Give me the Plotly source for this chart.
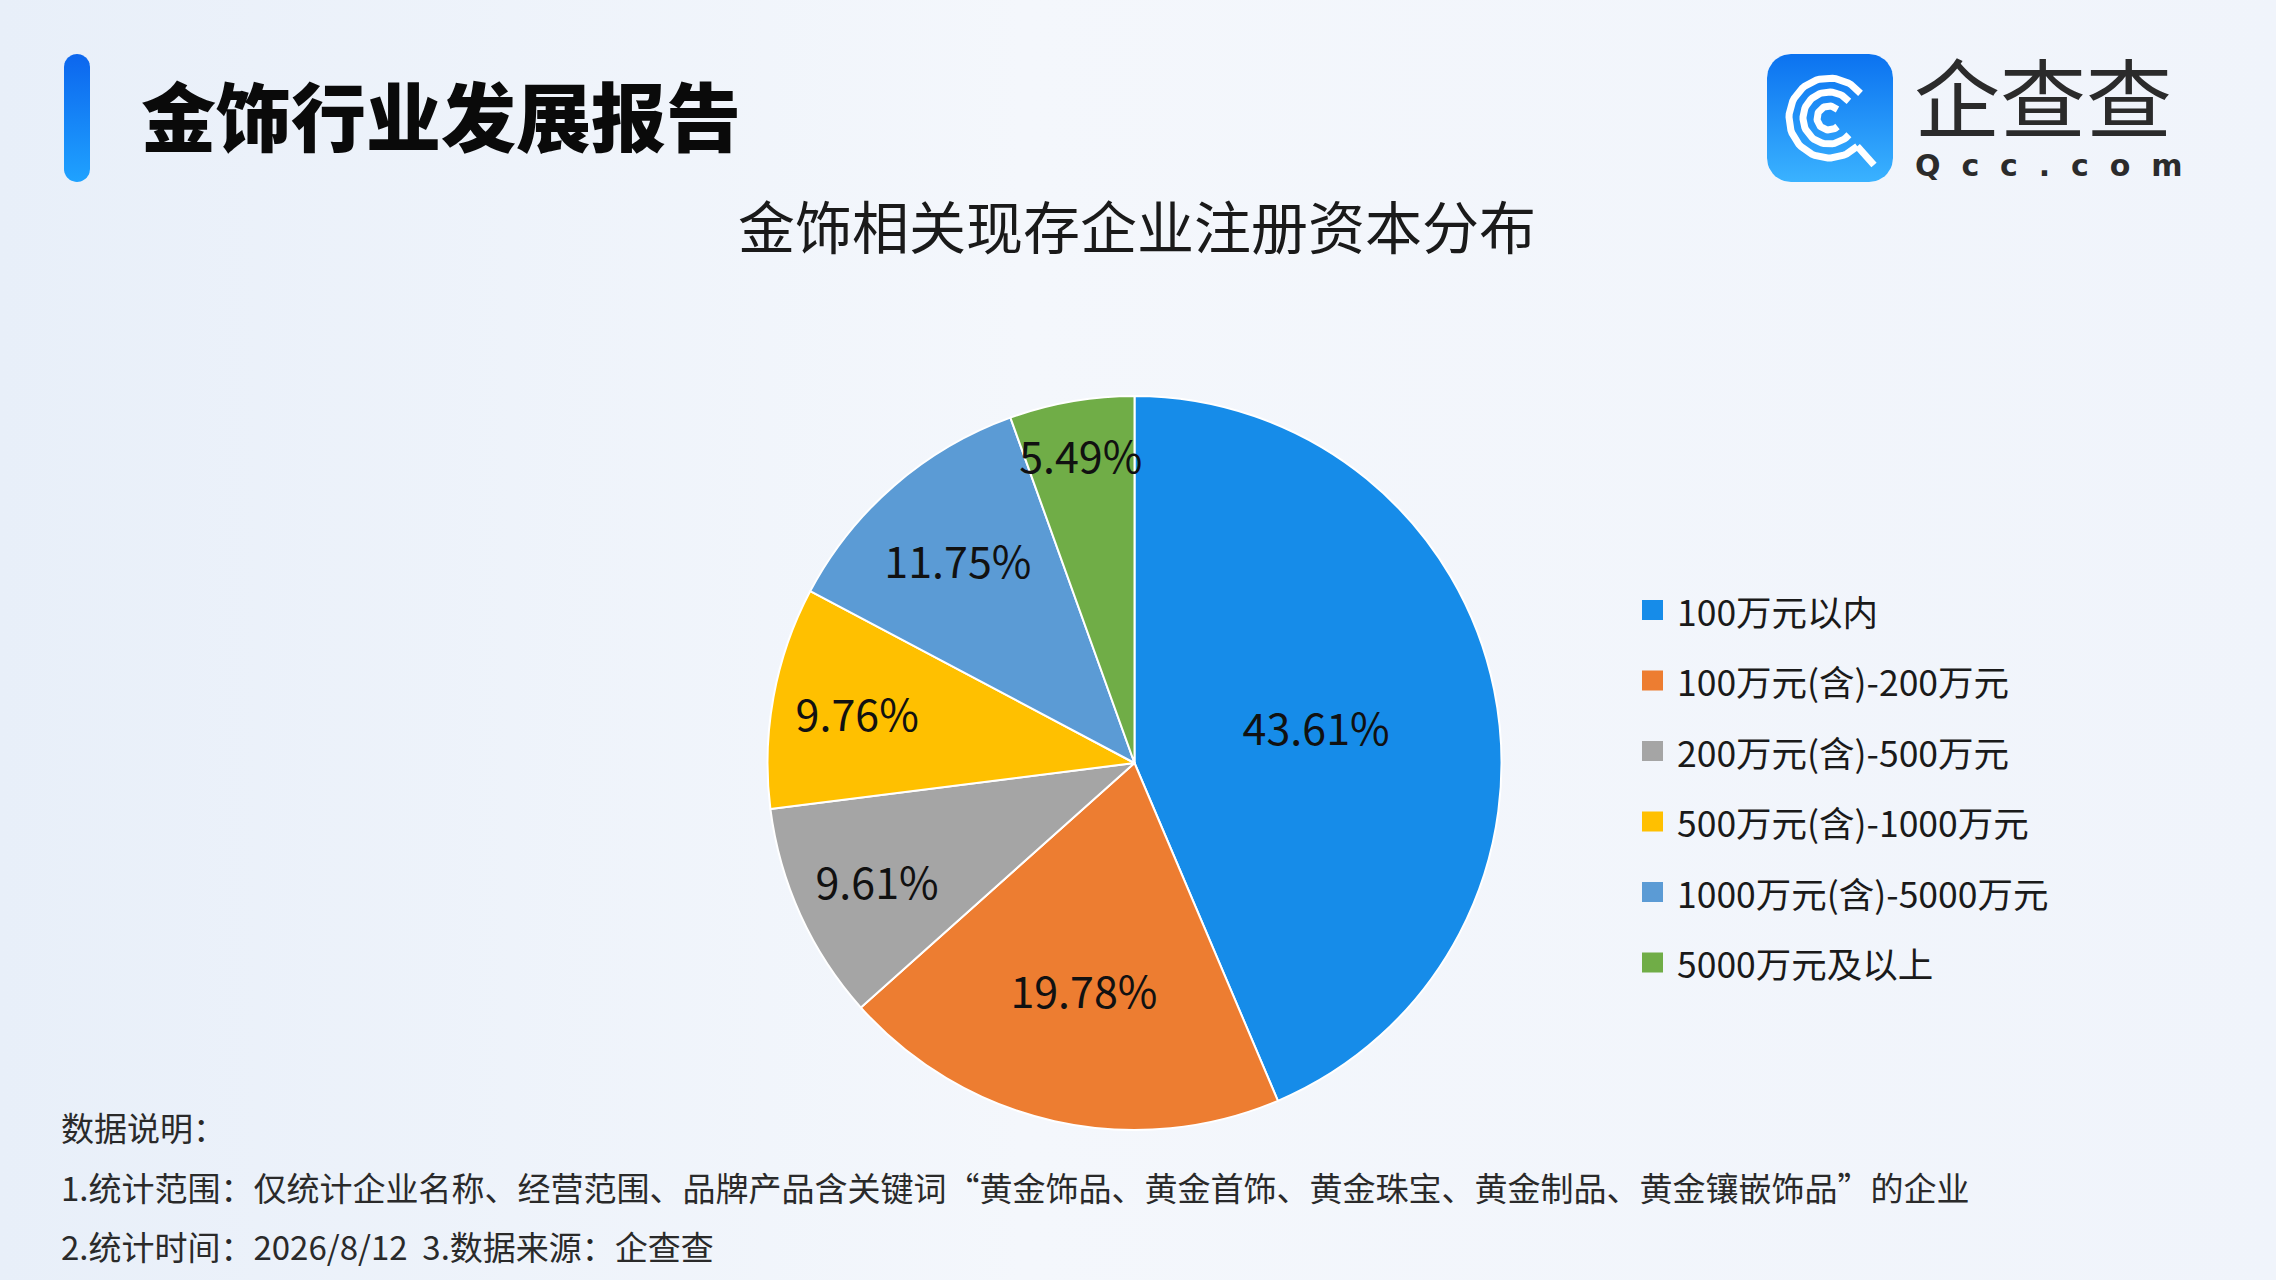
import numpy as np
import plotly.graph_objects as go

W, H = 2276, 1280
FONT = "Noto Sans CJK SC"

# data
labels = ["100万元以内", "100万元(含)-200万元", "200万元(含)-500万元",
          "500万元(含)-1000万元", "1000万元(含)-5000万元", "5000万元及以上"]
shares = [43.61, 19.78, 9.61, 9.76, 11.75, 5.49]
colors = ["#168CE9", "#ED7D31", "#A5A5A5", "#FFC000", "#5B9BD5", "#70AD47"]

title = "金饰行业发展报告"
subtitle = "金饰相关现存企业注册资本分布"
notes = [
    "数据说明：",
    "1.统计范围：仅统计企业名称、经营范围、品牌产品含关键词“黄金饰品、黄金首饰、黄金珠宝、黄金制品、黄金镶嵌饰品”的企业",
    "2.统计时间：2026/8/12&nbsp;&nbsp;3.数据来源：企查查",
]

fig = go.Figure()


def rounded_rect(x0, y0, x1, y1, r, n=12):
    xs, ys = [], []
    corners = [(x1 - r, y0 + r, 90, 0), (x1 - r, y1 - r, 0, -90),
               (x0 + r, y1 - r, -90, -180), (x0 + r, y0 + r, 180, 90)]
    for cx, cy, a0, a1 in corners:
        t = np.radians(np.linspace(a0, a1, n))
        xs += list(cx + r * np.cos(t))
        ys += list(cy - r * np.sin(t))
    return xs + [xs[0]], ys + [ys[0]]


# hintergrund
fig.add_trace(go.Scatter(
    x=[0, W, W, 0, 0], y=[0, 0, H, H, 0], mode="lines", fill="toself",
    line=dict(width=0),
    fillgradient=dict(type="horizontal",
                      colorscale=[[0, "#E8EFF9"], [0.45, "#F4F7FC"], [1, "#F0F4FB"]]),
    hoverinfo="skip", showlegend=False,
))

# blauer balken links vom titel
bx, by = rounded_rect(64, 54, 90, 182, 13)
fig.add_trace(go.Scatter(
    x=bx, y=by, mode="lines", fill="toself", line=dict(width=0),
    fillgradient=dict(type="vertical", colorscale=[[0, "#1FA2FF"], [1, "#0C66EE"]]),
    hoverinfo="skip", showlegend=False,
))

# logo
lx, ly = rounded_rect(1767, 54, 1893, 182, 24)
fig.add_trace(go.Scatter(
    x=lx, y=ly, mode="lines", fill="toself", line=dict(width=0),
    fillgradient=dict(type="vertical", colorscale=[[0, "#3AB2FF"], [1, "#0B72F0"]]),
    hoverinfo="skip", showlegend=False,
))
cx, cy = 1829, 118
for r, a0, a1 in [(40, 38, 315), (26, 40, 320), (12, 45, 315)]:
    t = np.radians(np.linspace(a0, a1, 60))
    fig.add_trace(go.Scatter(
        x=cx + r * np.cos(t), y=cy - r * np.sin(t), mode="lines",
        line=dict(color="white", width=7), hoverinfo="skip", showlegend=False,
    ))
fig.add_trace(go.Scatter(
    x=[cx + 40 * np.cos(np.radians(315)), 1874], y=[cy + 40 * np.sin(np.radians(45)), 165],
    mode="lines", line=dict(color="white", width=7), hoverinfo="skip", showlegend=False,
))

# kreisdiagramm
fig.add_trace(go.Pie(
    labels=labels, values=shares, sort=False, direction="clockwise", rotation=0,
    marker=dict(colors=colors, line=dict(color="white", width=2)),
    texttemplate="%{value:.2f}%", textposition="inside",
    insidetextorientation="horizontal",
    textfont=dict(family=FONT, size=43, color="#111111"),
    domain=dict(x=[(1134.5 - 367) / W, (1134.5 + 367) / W],
                y=[(H - 763 - 367) / H, (H - 763 + 367) / H]),
    showlegend=False, hoverinfo="label+percent",
))

annotations = [
    dict(x=139, y=113, text=title, xanchor="left", yanchor="middle",
         font=dict(family=FONT, size=75, color="#0A0A0A", weight=900)),
    dict(x=1137, y=224, text=subtitle, xanchor="center", yanchor="middle",
         font=dict(family=FONT, size=57, color="#1A1A1A")),
    dict(x=1912, y=94, text="企查查", xanchor="left", yanchor="middle",
         font=dict(family=FONT, size=86, color="#2B2B2B")),
    dict(x=2048, y=146, text="Q  c  c  .  c  o  m", xanchor="center", yanchor="top",
         font=dict(family="DejaVu Sans", size=30, color="#2B2B2B", weight="bold")),
]

shapes = []
# legende
for i, (lab, col) in enumerate(zip(labels, colors)):
    y = 610 + i * 70.5
    shapes.append(dict(type="rect", xref="x", yref="y", x0=1642, x1=1663, y0=y - 10, y1=y + 10,
                       fillcolor=col, line=dict(width=0)))
    annotations.append(dict(x=1675, y=y, text=lab, xanchor="left", yanchor="middle",
                            font=dict(family=FONT, size=35.5, color="#1A1A1A")))

# fussnote
for i, line in enumerate(notes):
    annotations.append(dict(x=59, y=1127 + i * 59.5, text=line, xanchor="left", yanchor="middle",
                            font=dict(family=FONT, size=33, color="#2A2A2A")))

for a in annotations:
    a.update(xref="x", yref="y", showarrow=False)

fig.update_layout(
    width=W, height=H,
    margin=dict(l=0, r=0, t=0, b=0),
    paper_bgcolor="#F0F4FB", plot_bgcolor="rgba(0,0,0,0)",
    xaxis=dict(range=[0, W], visible=False, fixedrange=True, domain=[0, 1]),
    yaxis=dict(range=[H, 0], visible=False, fixedrange=True, domain=[0, 1]),
    uniformtext=dict(minsize=43, mode="show"),
    annotations=annotations, shapes=shapes,
    showlegend=False,
)

fig.write_html("out.html", config={"displayModeBar": False},
               post_script="document.body.style.margin='0';")
